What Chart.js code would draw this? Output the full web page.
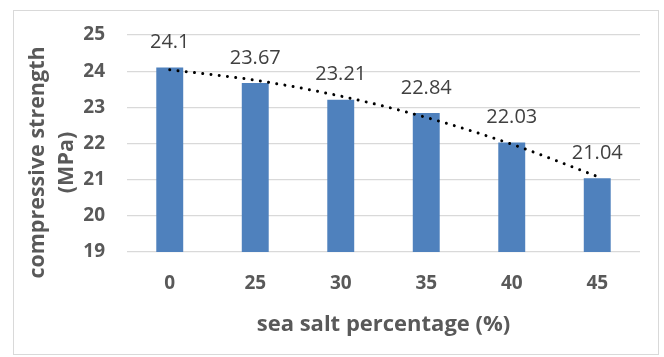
<!DOCTYPE html>
<html>
<head>
<meta charset="utf-8">
<script src="https://cdn.jsdelivr.net/npm/chart.js@4/dist/chart.umd.min.js"></script>
<style>
  html, body { margin: 0; padding: 0; background: #ffffff; }
  #wrap { position: relative; width: 664px; height: 357px; }
</style>
</head>
<body>
<div id="wrap"><canvas id="c" width="664" height="357"></canvas></div>
<script>
// Sea salt content (%) and measured compressive strength (MPa)
const categories = ['0', '25', '30', '35', '40', '45'];
const strength = [24.1, 23.67, 23.21, 22.84, 22.03, 21.04];
// Polynomial trend through the strength values
const trend = [24.04, 23.75, 23.31, 22.72, 21.98, 21.09];
const yTitleLines = ['compressive strength', '(MPa)'];
const xTitle = 'sea salt percentage (%)';

const FONT = '"Open Sans", Lato, sans-serif';

const frame = {
  id: 'frame',
  beforeDraw(chart) {
    const ctx = chart.ctx;
    ctx.save();
    ctx.fillStyle = '#ffffff';
    ctx.fillRect(0, 0, chart.width, chart.height);
    ctx.strokeStyle = '#d9d9d9';
    ctx.lineWidth = 1;
    ctx.strokeRect(13.5, 10.5, 645, 344);
    ctx.restore();
  }
};

const valueLabels = {
  id: 'valueLabels',
  afterDatasetsDraw(chart) {
    const ctx = chart.ctx;
    const meta = chart.getDatasetMeta(1);
    ctx.save();
    ctx.font = '20px ' + FONT;
    ctx.fillStyle = '#404040';
    ctx.textAlign = 'center';
    ctx.textBaseline = 'middle';
    meta.data.forEach((bar, i) => {
      ctx.fillText(String(strength[i]), bar.x, bar.y - 25);
    });
    ctx.restore();
  }
};

const yTitle = {
  id: 'yTitle',
  afterDraw(chart) {
    const ctx = chart.ctx;
    const cy = (chart.chartArea.top + chart.chartArea.bottom) / 2 + 19;
    ctx.save();
    ctx.font = 'bold 21.5px ' + FONT;
    ctx.fillStyle = '#595959';
    ctx.textAlign = 'center';
    ctx.textBaseline = 'middle';
    yTitleLines.forEach((line, i) => {
      ctx.save();
      ctx.translate(38 + i * 29, cy);
      ctx.rotate(-Math.PI / 2);
      ctx.fillText(line, 0, 0);
      ctx.restore();
    });
    ctx.restore();
  }
};

new Chart(document.getElementById('c'), {
  type: 'bar',
  data: {
    labels: categories,
    datasets: [
      {
        type: 'line',
        data: trend,
        borderColor: '#000000',
        borderWidth: 3,
        borderDash: [0.001, 8.3],
        borderCapStyle: 'round',
        pointRadius: 0,
        fill: false,
        cubicInterpolationMode: 'monotone',
        order: 0
      },
      {
        type: 'bar',
        data: strength,
        backgroundColor: '#4f81bd',
        categoryPercentage: 1,
        barPercentage: 0.315,
        order: 1
      }
    ]
  },
  options: {
    responsive: false,
    animation: false,
    devicePixelRatio: 1,
    layout: { padding: { left: 0, right: 24, top: 35, bottom: 0 } },
    plugins: { legend: { display: false }, tooltip: { enabled: false } },
    scales: {
      x: {
        grid: { display: false, drawTicks: false },
        border: { display: false },
        ticks: { color: '#595959', font: { family: FONT, size: 19, weight: 'bold' }, padding: 20 },
        title: {
          display: true,
          text: xTitle,
          color: '#595959',
          font: { family: FONT, size: 22, weight: 'bold' },
          padding: { top: 0, bottom: 19 }
        },
        afterFit(scale) { scale.height = 105; }
      },
      y: {
        min: 19,
        max: 25,
        ticks: { stepSize: 1, color: '#595959', font: { family: FONT, size: 19, weight: 'bold' }, padding: 22 },
        grid: { color: '#d9d9d9', lineWidth: 1.3, drawTicks: false },
        border: { display: false },
        afterFit(scale) { scale.width = 127; }
      }
    }
  },
  plugins: [frame, valueLabels, yTitle]
});
</script>
</body>
</html>
